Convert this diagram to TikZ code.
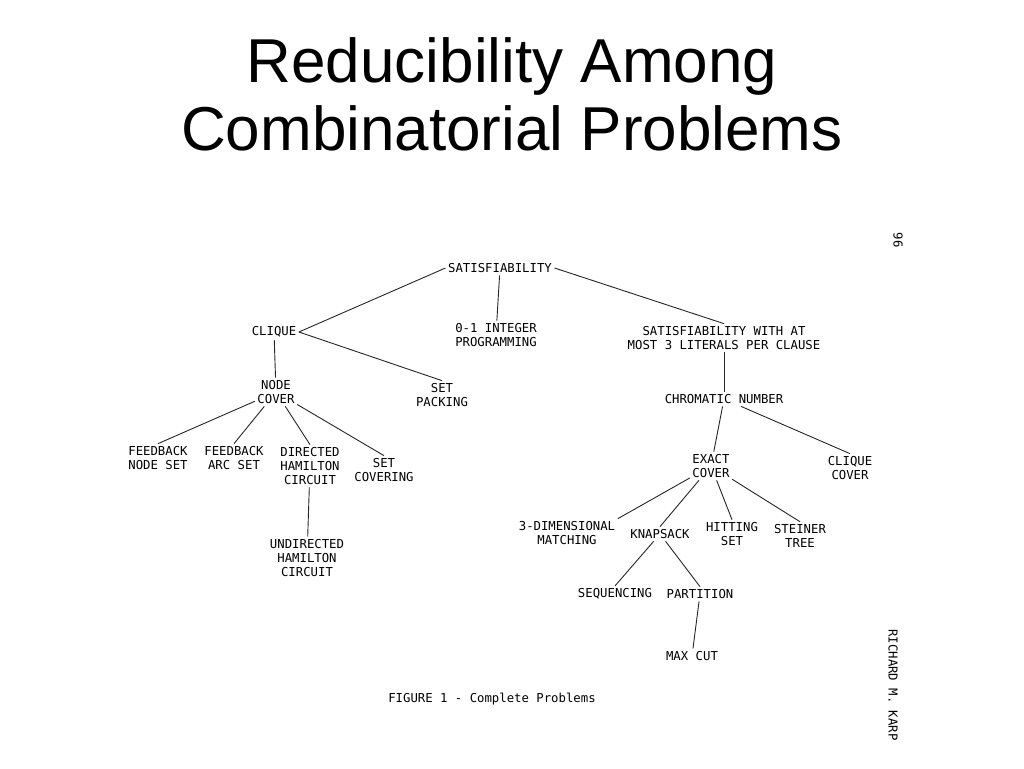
\documentclass[tikz,border=0pt]{standalone}
\usepackage{fontspec}
\setmainfont{Liberation Sans}
\setmonofont{DejaVu Sans Mono}
\usetikzlibrary{positioning}

\tikzset{prob/.style={font=\ttfamily\fontsize{12.3}{14}\selectfont, align=center, inner sep=2.5pt},
         edge/.style={draw=black!85, line width=0.9pt}}

\begin{document}
\begin{tikzpicture}[x=1pt,y=-1pt]
\useasboundingbox (0,0) rectangle (1024,768);
\node[font=\fontsize{62}{68}\selectfont, align=center] (title) at (512,94) {Reducibility Among\\Combinatorial Problems};
% tree
\node[prob] (sat) at (500,268) {SATISFIABILITY};
\node[prob] (clique) at (274,332) {CLIQUE};
\node[prob] (ilp) at (496,335) {0-1 INTEGER\\PROGRAMMING};
\node[prob] (sat3) at (724,338) {SATISFIABILITY WITH AT\\MOST 3 LITERALS PER CLAUSE};
\node[prob] (nc) at (276,392) {NODE\\COVER};
\node[prob] (sp) at (442,395) {SET\\PACKING};
\node[prob] (chrom) at (724,399) {CHROMATIC NUMBER};
\node[prob] (fns) at (158,458) {FEEDBACK\\NODE SET};
\node[prob] (fas) at (234,458) {FEEDBACK\\ARC SET};
\node[prob] (dhc) at (310,466) {DIRECTED\\HAMILTON\\CIRCUIT};
\node[prob] (sc) at (384,470) {SET\\COVERING};
\node[prob] (ec) at (711,466) {EXACT\\COVER};
\node[prob] (cc) at (850,468) {CLIQUE\\COVER};
\node[prob] (uhc) at (307,558) {UNDIRECTED\\HAMILTON\\CIRCUIT};
\node[prob] (tdm) at (567,533) {3-DIMENSIONAL\\MATCHING};
\node[prob] (knap) at (660,534) {KNAPSACK};
\node[prob] (hs) at (732,534) {HITTING\\SET};
\node[prob] (st) at (800,536) {STEINER\\TREE};
\node[prob] (seq) at (615,594) {SEQUENCING};
\node[prob] (part) at (700,594) {PARTITION};
\node[prob] (mc) at (692,656) {MAX CUT};
\node[prob] (fig) at (492,699) {FIGURE 1 - Complete Problems};
\node[prob, rotate=-90] (page) at (898,240) {96};
\node[prob, rotate=-90] (auth) at (893,685) {RICHARD M. KARP};
% connectors
\draw[edge] (sat.west) -- (clique.east);
\draw[edge] (sat) -- (ilp);
\draw[edge] (sat.east) -- (sat3.north);
\draw[edge] (clique) -- (nc);
\draw[edge] (clique.east) -- (sp.north);
\draw[edge] (sat3) -- (chrom);
\draw[edge] (nc) -- (fns.north);
\draw[edge] (nc) -- (fas.north);
\draw[edge] (nc) -- (dhc.north);
\draw[edge] (nc) -- (sc.north);
\draw[edge] (dhc) -- (uhc);
\draw[edge] (chrom) -- (ec);
\draw[edge] (chrom) -- (cc.north);
\draw[edge] (ec) -- (tdm.north east);
\draw[edge] (ec) -- (knap.north);
\draw[edge] (ec) -- (hs.north);
\draw[edge] (ec) -- (st.north);
\draw[edge] (knap) -- (seq.north);
\draw[edge] (knap) -- (part.north);
\draw[edge] (part) -- (mc);
\end{tikzpicture}
\end{document}
